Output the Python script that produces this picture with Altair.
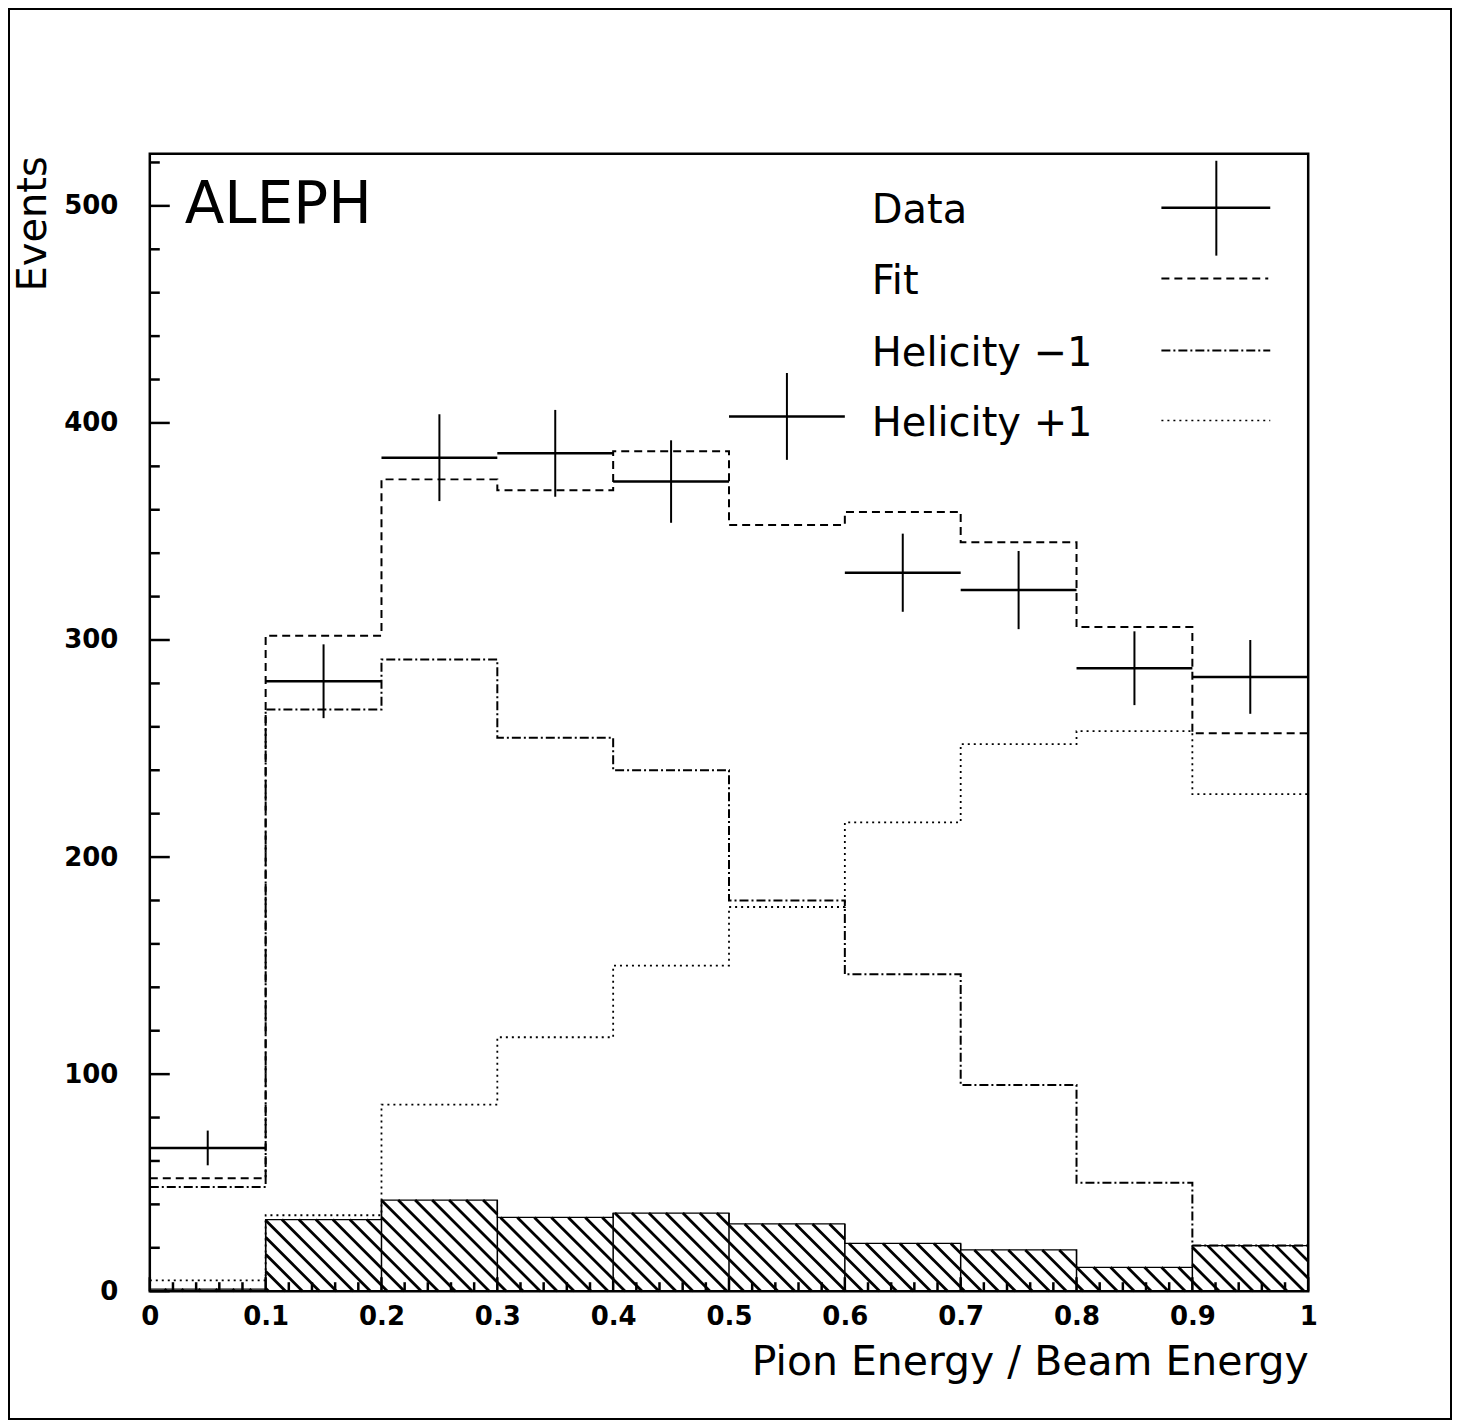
import altair as alt
import numpy as np
import pandas as pd

# ---------------- data ----------------
bin_lo = [0.0, 0.1, 0.2, 0.3, 0.4, 0.5, 0.6, 0.7, 0.8, 0.9]
bin_width = 0.1
data_vals = [66, 281, 384, 386, 373, 403, 331, 323, 287, 283]
data_errs = [8, 17, 20, 20, 19, 20, 18, 18, 17, 17]
fit_vals = [52, 302, 374, 369, 387, 353, 359, 345, 306, 257]
hel_minus = [48, 268, 291, 255, 240, 180, 146, 95, 50, 21]
hel_plus = [5, 35, 86, 117, 150, 177, 216, 252, 258, 229]
background = [1, 33, 42, 34, 36, 31, 22, 19, 11, 21]

x_tick_values = [0, 0.1, 0.2, 0.3, 0.4, 0.5, 0.6, 0.7, 0.8, 0.9, 1]
y_tick_values = [0, 100, 200, 300, 400, 500]
x_minor_ticks = [round(i * 0.02, 2) for i in range(51) if i % 5]
y_minor_ticks = [v for v in range(0, 521, 20) if v % 100]
series_names = ["Data", "Fit", "Helicity \u22121", "Helicity +1"]

x_title = "Pion Energy / Beam Energy"
y_title = "Events"
experiment = "ALEPH"

# ---------------- layout ----------------
W, H = 1160, 1139
YMAX = 524
FONT = "DejaVu Sans"

xscale = alt.Scale(domain=[0, 1], nice=False, zero=False)
yscale = alt.Scale(domain=[0, YMAX], nice=False, zero=True)

xax = alt.Axis(values=x_tick_values, format="~g", ticks=False, domain=False, grid=False,
               labelFont=FONT, labelFontWeight="bold", labelFontSize=26,
               labelColor="black", labelPadding=12, labelFlush=False, labelOverlap=False,
               title=x_title, titleFont=FONT, titleFontSize=41, titleFontWeight="normal",
               titleColor="black", titleX=W, titleY=83, titleAlign="right",
               titleBaseline="alphabetic")
yax = alt.Axis(values=y_tick_values, ticks=False, domain=False, grid=False,
               labelFont=FONT, labelFontWeight="bold", labelFontSize=26,
               labelColor="black", labelPadding=32, labelFlush=False, labelOverlap=False,
               title=y_title, titleFont=FONT, titleFontSize=40, titleFontWeight="normal",
               titleColor="black", titleX=-116, titleY=2, titleAlign="right",
               titleBaseline="middle")


def X(field):
    return alt.X(field, type="quantitative", scale=xscale, axis=xax)


def Y(field):
    return alt.Y(field, type="quantitative", scale=yscale, axis=yax)


def steps(vals):
    xs = list(bin_lo) + [bin_lo[-1] + bin_width]
    ys = list(vals) + [vals[-1]]
    return pd.DataFrame({"x": xs, "y": ys})


layers = []

# ---- hatched background (45 degree lines clipped to each bin) ----
k = (W / 1.0) / (H / YMAX)
step = 17.0 / W
segs = []
bs = np.arange(0, 1 + max(background) / k + step, step)
for lo, h in zip(bin_lo, background):
    hi = lo + bin_width
    for b in bs:
        xa = max(lo, b - h / k)
        xb = min(hi, b)
        if xb - xa > 1e-6:
            segs.append({"x": xa, "y": k * (b - xa), "x2": xb, "y2": k * (b - xb)})
hatch_df = pd.DataFrame(segs)
layers.append(
    alt.Chart(hatch_df).mark_rule(color="black", strokeWidth=2.8, strokeCap="butt").encode(
        x=X("x"), y=Y("y"), x2="x2", y2="y2")
)
layers.append(
    alt.Chart(steps(background)).mark_line(interpolate="step-after", color="black",
                                           strokeWidth=1.2).encode(x=X("x"), y=Y("y"))
)
edge_df = pd.DataFrame({"x": bin_lo[1:], "y": [0] * 9,
                        "y2": [max(background[i - 1], background[i]) for i in range(1, 10)]})
layers.append(
    alt.Chart(edge_df).mark_rule(color="black", strokeWidth=1.5).encode(
        x=X("x"), y=Y("y"), y2="y2")
)

# ---- fit and helicity components ----
layers.append(
    alt.Chart(steps(hel_plus)).mark_line(interpolate="step-after", color="black",
                                         strokeWidth=1.8, strokeDash=[2, 4]).encode(
        x=X("x"), y=Y("y"))
)
layers.append(
    alt.Chart(steps(hel_minus)).mark_line(interpolate="step-after", color="black",
                                          strokeWidth=2, strokeDash=[9, 3, 2, 3]).encode(
        x=X("x"), y=Y("y"))
)
layers.append(
    alt.Chart(steps(fit_vals)).mark_line(interpolate="step-after", color="black",
                                         strokeWidth=2, strokeDash=[8, 5]).encode(
        x=X("x"), y=Y("y"))
)

# ---- data points with error bars ----
pts = pd.DataFrame({
    "lo": bin_lo,
    "hi": [b + bin_width for b in bin_lo],
    "c": [b + bin_width / 2 for b in bin_lo],
    "v": data_vals,
    "vlo": [v - e for v, e in zip(data_vals, data_errs)],
    "vhi": [v + e for v, e in zip(data_vals, data_errs)],
})
layers.append(
    alt.Chart(pts).mark_rule(color="black", strokeWidth=2.5).encode(
        x=X("lo"), x2="hi", y=Y("v"))
)
layers.append(
    alt.Chart(pts).mark_rule(color="black", strokeWidth=2).encode(
        x=X("c"), y=Y("vlo"), y2="vhi")
)

# ---- inward ticks ----
layers.append(
    alt.Chart(pd.DataFrame({"v": y_tick_values})).mark_rule(color="black", strokeWidth=2.5).encode(
        y=Y("v"), x=alt.value(0), x2=alt.value(20))
)
layers.append(
    alt.Chart(pd.DataFrame({"v": y_minor_ticks})).mark_rule(color="black", strokeWidth=2.5).encode(
        y=Y("v"), x=alt.value(0), x2=alt.value(10))
)
layers.append(
    alt.Chart(pd.DataFrame({"v": x_tick_values})).mark_rule(color="black", strokeWidth=2.5).encode(
        x=X("v"), y=alt.value(H), y2=alt.value(H - 14))
)
layers.append(
    alt.Chart(pd.DataFrame({"v": x_minor_ticks})).mark_rule(color="black", strokeWidth=2.5).encode(
        x=X("v"), y=alt.value(H), y2=alt.value(H - 9))
)

# ---- ALEPH label ----
layers.append(
    alt.Chart(pd.DataFrame({"t": [experiment]})).mark_text(
        font=FONT, fontSize=58, align="left", baseline="alphabetic", color="black").encode(
        text="t:N", x=alt.value(35), y=alt.value(69))
)

# ---- legend ----
leg_text_y = [69, 140, 213, 283]
for name, ty in zip(series_names, leg_text_y):
    layers.append(
        alt.Chart(pd.DataFrame({"t": [name]})).mark_text(
            font=FONT, fontSize=40, align="left", baseline="alphabetic", color="black").encode(
            text="t:N", x=alt.value(723), y=alt.value(ty))
    )
one = pd.DataFrame({"a": [0]})
layers.append(alt.Chart(one).mark_rule(color="black", strokeWidth=2.5).encode(
    x=alt.value(1013), x2=alt.value(1122), y=alt.value(54)))
layers.append(alt.Chart(one).mark_rule(color="black", strokeWidth=2).encode(
    x=alt.value(1068), y=alt.value(7), y2=alt.value(102)))
layers.append(alt.Chart(one).mark_rule(color="black", strokeWidth=2, strokeDash=[8, 5]).encode(
    x=alt.value(1013), x2=alt.value(1120), y=alt.value(125)))
layers.append(alt.Chart(one).mark_rule(color="black", strokeWidth=2, strokeDash=[9, 3, 2, 3]).encode(
    x=alt.value(1013), x2=alt.value(1122), y=alt.value(197)))
layers.append(alt.Chart(one).mark_rule(color="black", strokeWidth=1.5, strokeDash=[2, 4]).encode(
    x=alt.value(1013), x2=alt.value(1122), y=alt.value(267)))

# ---- outer frame ----
layers.append(alt.Chart(one).mark_rect(fillOpacity=0, stroke="black", strokeWidth=2).encode(
    x=alt.value(-141), x2=alt.value(1303), y=alt.value(-145), y2=alt.value(1267)))

chart = alt.layer(*layers).properties(
    width=W, height=H,
    autosize=alt.AutoSizeParams(type="none"),
    padding={"left": 142, "top": 145, "right": 145, "bottom": 130},
    background="white",
).configure_view(stroke="black", strokeWidth=2.5)

chart.save("out.html", embed_options={"renderer": "svg", "actions": False})
